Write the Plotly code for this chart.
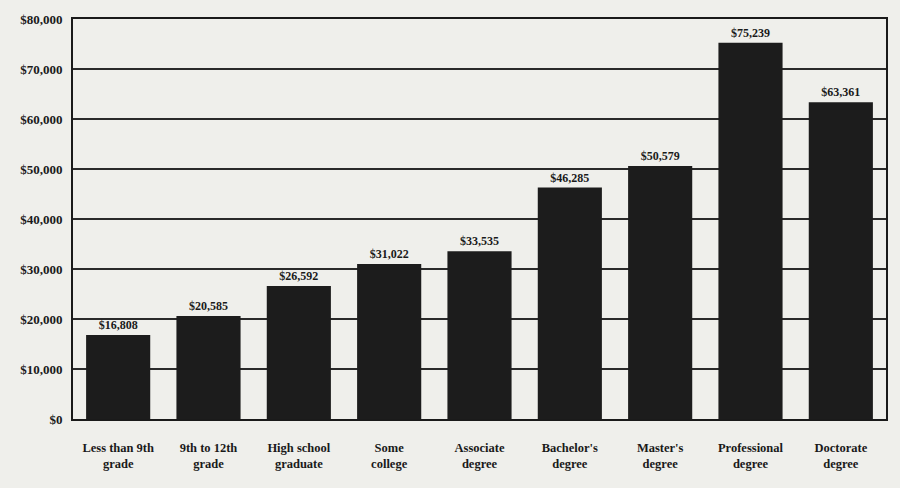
import plotly.graph_objects as go

categories = ["Less than 9th<br>grade", "9th to 12th<br>grade", "High school<br>graduate",
              "Some<br>college", "Associate<br>degree", "Bachelor's<br>degree",
              "Master's<br>degree", "Professional<br>degree", "Doctorate<br>degree"]
earnings = [16808, 20585, 26592, 31022, 33535, 46285, 50579, 75239, 63361]
y_ticks = [0, 10000, 20000, 30000, 40000, 50000, 60000, 70000, 80000]
y_tick_labels = ["$0", "$10,000", "$20,000", "$30,000", "$40,000", "$50,000",
                 "$60,000", "$70,000", "$80,000"]
bar_labels = ["${:,}".format(v) for v in earnings]

FONT = "Liberation Serif"

fig = go.Figure(go.Bar(
    x=categories, y=earnings,
    marker=dict(color="#1c1c1c", line=dict(color="#1c1c1c", width=0)),
    text=bar_labels, textposition="outside", cliponaxis=False,
    textfont=dict(family=FONT, size=12, color="#1a1a1a", weight="bold"),
    width=0.71,
))

fig.update_layout(
    width=900, height=488,
    margin=dict(l=73, r=12, t=18, b=69),
    paper_bgcolor="#efefeb", plot_bgcolor="#efefeb",
    showlegend=False,
    font=dict(family=FONT, color="#1a1a1a"),
)
fig.update_xaxes(
    showline=True, linecolor="#1a1a1a", linewidth=2, mirror=True,
    showgrid=False, ticks="", ticklabelstandoff=16,
    tickfont=dict(family=FONT, size=12.5, color="#1a1a1a", weight="bold"),
)
fig.update_yaxes(
    range=[0, 80000], tickvals=y_ticks, ticktext=y_tick_labels,
    showline=True, linecolor="#1a1a1a", linewidth=2, mirror=True,
    showgrid=True, gridcolor="#2a2a2a", gridwidth=2, zeroline=False,
    ticks="", ticklabelstandoff=6,
    tickfont=dict(family=FONT, size=13, color="#1a1a1a", weight="bold"),
)

fig.write_html("out.html")
